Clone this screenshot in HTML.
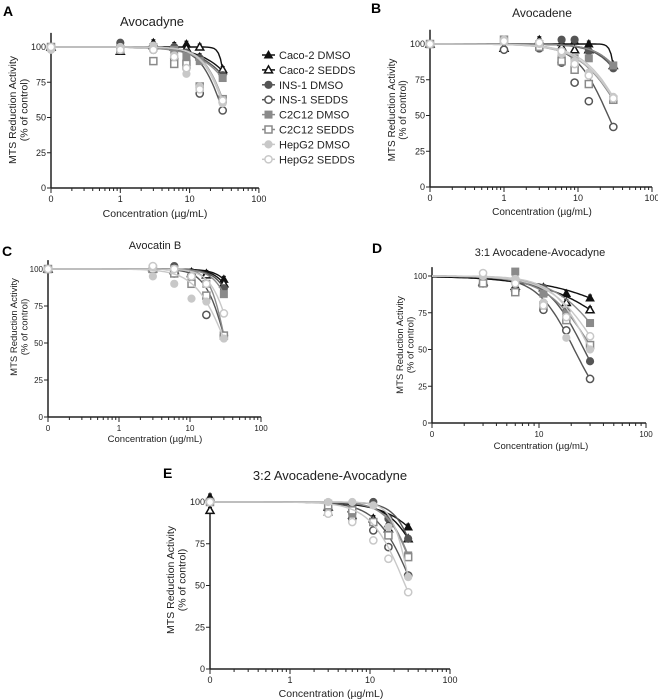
<!DOCTYPE html>
<html><head><meta charset="utf-8"><style>
body{margin:0;background:#fff}
svg{display:block;font-family:"Liberation Sans",sans-serif}
</style></head><body>
<svg id="fig" width="658" height="700" viewBox="0 0 658 700"></svg>
<script>
// ---- data ----
const seriesNames = ["Caco-2 DMSO","Caco-2 SEDDS","INS-1  DMSO","INS-1 SEDDS","C2C12  DMSO","C2C12  SEDDS","HepG2 DMSO","HepG2 SEDDS"];
const concA = [0,1,3,6,9,14,30];
const valuesA = [[100,97,103,101,102,93,83],[100,97,101,100,99,100,84],[100,103,100,100,96,92,80],[100,100,98,92,85,67,55],[100,98,100,98,93,90,78],[100,98,90,88,88,72,63],[98,100,101,94,81,72,60],[100,98,98,93,85,70,62]];
const hillA = [1.5,10,1.5,2.5,1.5,2.5,2.5,2.5];
const concB = [0,1,3,6,9,14,30];
const valuesB = [[100,97,103,101,102,100,85],[100,97,102,98,96,96,85],[100,96,100,103,103,95,83],[100,96,97,87,73,60,42],[100,102,100,90,90,90,85],[100,103,98,88,82,72,61],[100,103,100,93,88,80,63],[100,102,101,95,86,78,62]];
const hillB = [12,2,2,2,2,1.5,1.6,1.5];
const concC = [0,3,6,10.5,17,30];
const valuesC = [[100,100,100,98,97,93],[100,101,99,97,96,90],[100,100,102,95,90,87],[100,100,97,95,69,55],[100,100,100,93,90,83],[100,100,97,90,82,55],[100,95,90,80,78,53],[100,102,100,95,90,70]];
const hillC = [3,3,3,3,3,4,2,3];
const concD = [3,6,11,18,30];
const valuesD = [[95,92,89,88,85],[96,93,92,82,77],[97,98,92,76,42],[95,90,77,63,30],[98,103,88,74,68],[95,89,80,70,53],[100,98,82,58,50],[102,95,80,72,59]];
const hillD = [1,1.2,2.5,2.5,1.8,2,2.5,2];
const concE = [0,3,6,11,17,30];
const valuesE = [[103,94,92,90,87,85],[95,97,96,90,84,78],[100,95,97,100,90,78],[100,96,90,83,73,56],[100,99,93,88,80,68],[100,98,95,88,80,67],[100,100,100,98,85,55],[100,93,88,77,66,46]];
const hillE = [1.5,2,3,2,2.5,2.5,4,2];
const yTicks = [0,25,50,75,100];
const xTickLabelsFull = ["0","1","10","100"];
const xTickLabelsD = ["0","10","100"];

const colors = ["#111","#111","#555","#555","#8a8a8a","#8a8a8a","#c8c8c8","#c8c8c8"];
const markers = ["tri","tri","circ","circ","sq","sq","circ","circ"];
const NS="http://www.w3.org/2000/svg";
const svg=document.getElementById('fig');
function mk(tag,attrs,parent){const e=document.createElementNS(NS,tag);for(const k in attrs)e.setAttribute(k,attrs[k]);(parent||svg).appendChild(e);return e;}
function txt(s,x,y,size,anchor,parent,extra){const t=mk('text',Object.assign({x:x,y:y,'font-size':size,'text-anchor':anchor||'middle',fill:'#222'},extra||{}),parent);t.textContent=s;return t;}

function drawMarker(g,type,cx,cy,col,open){
  const fill=open?'#fff':col, sw=open?1.5:1;
  let m;
  if(type==='tri') m=mk('polygon',{points:`${cx},${cy-4} ${cx-4},${cy+3} ${cx+4},${cy+3}`,fill:fill,stroke:col,'stroke-width':sw},g);
  else if(type==='sq') m=mk('rect',{x:cx-3.5,y:cy-3.5,width:7,height:7,fill:fill,stroke:col,'stroke-width':sw},g);
  else m=mk('circle',{cx:cx,cy:cy,r:3.6,fill:fill,stroke:col,'stroke-width':sw},g);
  return m;
}

function panel(p){
  const g=mk('g',{});
  
  
  const lmin=Math.log10(p.xmin);
  const X=v=>p.x0+(Math.log10(Math.max(v,p.xmin))-lmin)*p.dec;
  const Y=v=>p.y0-(v/100)*(p.y0-p.y100);
  const xEnd=X(100);
  const L=txt(p.id,p.lx,p.ly,14,'start',g,{'font-weight':'bold',fill:'#000'});
  
  
  const T=txt(p.title,p.tx,p.ty,p.tsize,'middle',g);
  
  
  const ya=mk('line',{x1:p.x0,y1:Y(p.ymax),x2:p.x0,y2:p.y0,stroke:'#222','stroke-width':1.5},g);
  
  
  const xa=mk('line',{x1:p.x0,y1:p.y0,x2:xEnd,y2:p.y0,stroke:'#222','stroke-width':1.5},g);
  
  
  yTicks.forEach(v=>{
    mk('line',{x1:p.x0-4,y1:Y(v),x2:p.x0,y2:Y(v),stroke:'#222','stroke-width':1},g);
    const t=txt(String(v),p.x0-5,Y(v)+3,p.fs,'end',g);
    
    
  });
  const decs=[];for(let d=Math.round(lmin);d<=2;d++)decs.push(d);
  decs.forEach((d,i)=>{
    const x=p.x0+(d-lmin)*p.dec;
    mk('line',{x1:x,y1:p.y0,x2:x,y2:p.y0+5,stroke:'#222','stroke-width':1},g);
    const t=txt(p.xlabels[i],x,p.y0+14,p.fs,'middle',g);
    
    
    if(d<2)for(let k=2;k<10;k++){const xm=x+Math.log10(k)*p.dec;mk('line',{x1:xm,y1:p.y0,x2:xm,y2:p.y0+3,stroke:'#222','stroke-width':1},g);}
  });
  const xl=txt('Concentration  (\u00b5g/mL)',p.xlx,p.xly,p.lsize,'middle',g);
  
  
  const yl=mk('g',{transform:`translate(${p.ylx},${p.yly}) rotate(-90)`},g);
  
  
  txt('MTS Reduction Activity',0,0,p.lsize,'middle',yl);
  txt('(% of control)',0,p.lsize+1,p.lsize,'middle',yl);
  p.values.forEach((vals,s)=>{
    const sg=mk('g',{},g);
    
    
    const col=colors[s],h=p.hill[s];
    const last=Math.min(vals[vals.length-1],99.5);
    const ec=p.conc[p.conc.length-1]/Math.pow(100/last-1,1/h);
    let d='';
    const l0=lmin,l1=Math.log10(p.conc[p.conc.length-1]);
    for(let i=0;i<=80;i++){const lx=l0+(l1-l0)*i/80,c=Math.pow(10,lx);const yv=100/(1+Math.pow(c/ec,h));d+=(i?'L':'M')+X(c).toFixed(1)+','+Y(yv).toFixed(1);}
    const cp=mk('path',{d:d,fill:'none',stroke:col,'stroke-width':1.4},sg);
    
    
    vals.forEach((v,i)=>{
      const cx=X(p.conc[i]),cy=Y(v);
      mk('line',{x1:cx,y1:cy-3,x2:cx,y2:cy+3,stroke:col,'stroke-width':1},sg);
      mk('line',{x1:cx-2,y1:cy-3,x2:cx+2,y2:cy-3,stroke:col,'stroke-width':1},sg);
      const m=drawMarker(sg,markers[s],cx,cy,col,s%2===1);
      
      
    });
  });
}

panel({id:'A',title:'Avocadyne',conc:concA,values:valuesA,hill:hillA,xmin:0.1,x0:51,dec:69.3,y100:47,y0:188,ymax:110,tx:152,ty:26,tsize:13,lx:3,ly:16,xlx:155,xly:217,ylx:16,yly:110,fs:9,lsize:10.5,xlabels:xTickLabelsFull});
panel({id:'B',title:'Avocadene',conc:concB,values:valuesB,hill:hillB,xmin:0.1,x0:430,dec:74,y100:44,y0:187,ymax:110,tx:542,ty:17,tsize:12,lx:371,ly:13,xlx:542,xly:215,ylx:395,yly:110,fs:9,lsize:10,xlabels:xTickLabelsFull});
panel({id:'C',title:'Avocatin B',conc:concC,values:valuesC,hill:hillC,xmin:0.1,x0:48,dec:71,y100:269,y0:417,ymax:106,tx:155,ty:249,tsize:11,lx:2,ly:256,xlx:155,xly:442,ylx:17,yly:327,fs:8,lsize:9.5,xlabels:xTickLabelsFull});
panel({id:'D',title:'3:1 Avocadene-Avocadyne',conc:concD,values:valuesD,hill:hillD,xmin:1,x0:432,dec:107,y100:276,y0:423,ymax:106,tx:540,ty:256,tsize:11,lx:372,ly:253,xlx:541,xly:449,ylx:403,yly:345,fs:8,lsize:9.5,xlabels:xTickLabelsD});
panel({id:'E',title:'3:2 Avocadene-Avocadyne',conc:concE,values:valuesE,hill:hillE,xmin:0.1,x0:210,dec:80,y100:502,y0:669,ymax:105,tx:330,ty:480,tsize:13,lx:163,ly:478,xlx:331,xly:697,ylx:174,yly:580,fs:9,lsize:10.5,xlabels:xTickLabelsFull});

const lg=mk('g',{});


seriesNames.forEach((n,i)=>{
  const y=55+14.9*i;
  const e=mk('g',{},lg);
  
  
  mk('line',{x1:262,y1:y,x2:275,y2:y,stroke:colors[i],'stroke-width':1.5},e);
  drawMarker(e,markers[i],268.5,y,colors[i],i%2===1);
  txt(n,279,y+4,11,'start',e);
});
</script>
</body></html>
